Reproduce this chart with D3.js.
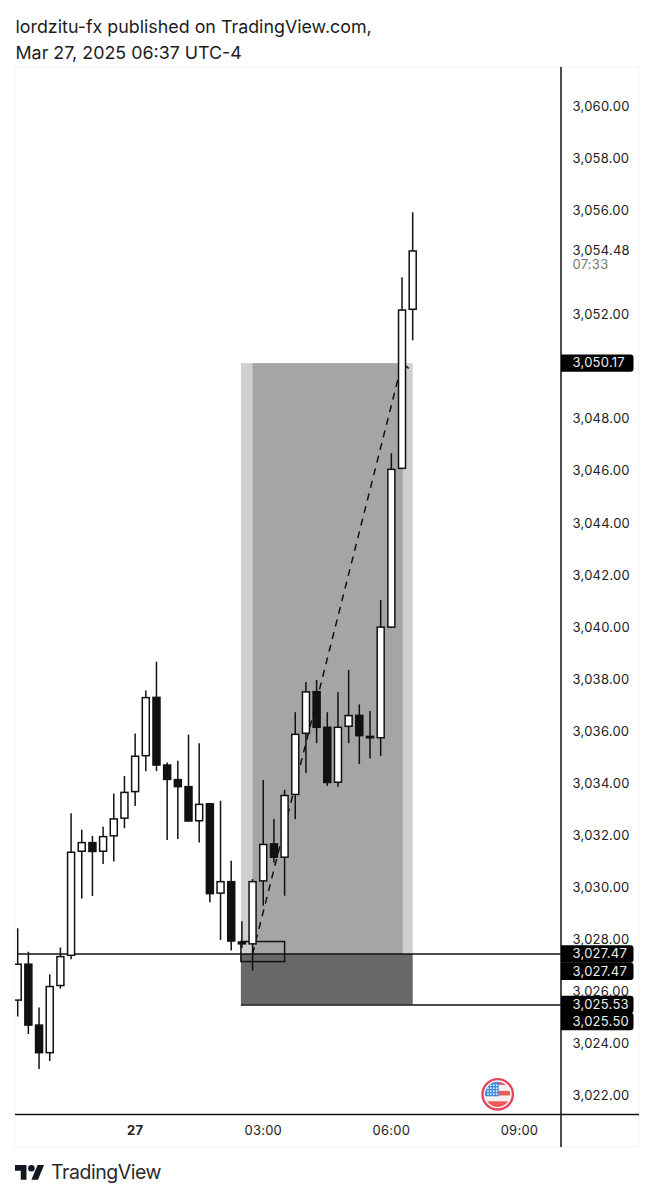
<!DOCTYPE html>
<html>
<head>
<meta charset="utf-8">
<script src="https://cdn.jsdelivr.net/npm/d3@7/dist/d3.min.js"></script>
<style>
html,body{margin:0;padding:0;background:#fff}
svg{display:block}
text{font-family:Inter,"Noto Sans",sans-serif}
</style>
</head>
<body>
<script>
// 15-minute bars, Mar 26 21:15 through Mar 27 06:30 local time (UTC-4)
const barTimes = ["2025-03-27T01:15Z","2025-03-27T01:30Z","2025-03-27T01:45Z","2025-03-27T02:00Z","2025-03-27T02:15Z","2025-03-27T02:30Z","2025-03-27T02:45Z","2025-03-27T03:00Z","2025-03-27T03:15Z","2025-03-27T03:30Z","2025-03-27T03:45Z","2025-03-27T04:00Z","2025-03-27T04:15Z","2025-03-27T04:30Z","2025-03-27T04:45Z","2025-03-27T05:00Z","2025-03-27T05:15Z","2025-03-27T05:30Z","2025-03-27T05:45Z","2025-03-27T06:00Z","2025-03-27T06:15Z","2025-03-27T06:30Z","2025-03-27T06:45Z","2025-03-27T07:00Z","2025-03-27T07:15Z","2025-03-27T07:30Z","2025-03-27T07:45Z","2025-03-27T08:00Z","2025-03-27T08:15Z","2025-03-27T08:30Z","2025-03-27T08:45Z","2025-03-27T09:00Z","2025-03-27T09:15Z","2025-03-27T09:30Z","2025-03-27T09:45Z","2025-03-27T10:00Z","2025-03-27T10:15Z","2025-03-27T10:30Z"];
const opens  = [3025.70,3027.08,3024.74,3023.68,3026.26,3027.42,3031.42,3031.75,3031.42,3032.01,3032.69,3033.71,3035.09,3037.33,3034.73,3034.17,3033.90,3032.59,3033.24,3029.81,3030.25,3027.93,3027.86,3030.28,3031.70,3031.19,3033.60,3035.95,3037.55,3036.18,3034.07,3036.22,3036.64,3035.83,3035.78,3040.03,3046.13,3052.24];
const highs  = [3028.46,3027.56,3025.42,3026.69,3027.72,3032.88,3032.24,3032.01,3032.36,3033.64,3034.31,3035.94,3037.59,3038.70,3034.83,3034.90,3035.90,3035.57,3033.26,3033.36,3031.05,3028.73,3030.35,3034.16,3032.66,3033.78,3036.76,3037.92,3038.00,3036.76,3037.53,3038.38,3037.06,3036.81,3041.07,3046.71,3053.47,3055.97];
const lows   = [3025.07,3024.40,3023.05,3023.36,3026.14,3027.27,3029.60,3029.70,3030.93,3031.02,3032.30,3033.16,3034.49,3034.50,3031.85,3031.89,3032.58,3031.75,3029.46,3028.01,3027.61,3027.70,3026.83,3029.32,3030.98,3029.71,3032.65,3034.42,3035.57,3033.93,3033.90,3035.57,3034.77,3034.98,3035.08,3040.00,3046.13,3051.05];
const closes = [3027.08,3024.74,3023.68,3026.22,3027.37,3031.38,3031.75,3031.41,3031.98,3032.66,3033.68,3035.07,3037.32,3034.73,3034.18,3033.90,3032.58,3033.22,3029.79,3030.25,3027.97,3027.86,3030.25,3031.68,3031.19,3033.56,3035.91,3037.54,3036.18,3034.06,3036.18,3036.63,3035.86,3035.78,3040.03,3046.09,3052.21,3054.48];

const priceTicks = [3060,3058,3056,3052,3048,3046,3044,3042,3040,3038,3036,3034,3032,3030,3028,3026,3024,3022];
const timeTicks = ["2025-03-27T04:00Z","2025-03-27T07:00Z","2025-03-27T10:00Z","2025-03-27T13:00Z"];
const timeTickLabels = ["27","03:00","06:00","09:00"];

// Long-position drawing: target, entry, stop
const targetPrice = 3050.17, entryPrice = 3027.47, stopPrice = 3025.53;
const toolStart = "2025-03-27T06:30Z", toolEnd = "2025-03-27T10:30Z";
const activeStart = "2025-03-27T06:45Z", activeEnd = "2025-03-27T10:15Z";
const boxStart = "2025-03-27T06:30Z", boxEnd = "2025-03-27T07:30Z", boxTop = 3027.95, boxBottom = 3027.18;
const tradePath = [["2025-03-27T06:45Z",3027.47],["2025-03-27T10:15Z",3050.17],["2025-03-27T10:30Z",3049.85]];

// Price-axis tags: stated value, and the price row each one is stacked on
const lastPrice = "3,054.48", countdown = "07:33";
const tags = [["3,050.17",3050.17],["3,027.47",3027.47],["3,027.47",3026.81],["3,025.53",3025.53],["3,025.50",3024.88]];

const width = 654, height = 1200;
const pane = {left:15, right:639, top:67, bottom:1147, axisX:561, axisY:1114.5};
const ink = "#111";
const labelStyle = s => s.style("font-size","13px").style("font-family","Inter,sans-serif").style("letter-spacing","0.25px");

const x = d3.scaleUtc().domain([new Date(barTimes[0]), new Date(barTimes[barTimes.length-1])]).range([17.7, 412.7]);
const y = d3.scaleLinear().domain([3060,3022]).range([107.3,1096.4]);
const t = s => x(new Date(s));

const svg = d3.select("body").append("svg").attr("width",width).attr("height",height);
svg.append("rect").attr("width",width).attr("height",height).attr("fill","#fff");

// Header lines
const header = svg.append("g").attr("fill","#1c1c1c").style("font-size","17.85px");
header.append("text").attr("x",15.5).attr("y",33).text("lordzitu-fx published on TradingView.com,");
header.append("text").attr("x",15.5).attr("y",59).text("Mar 27, 2025 06:37 UTC-4");

// Faint outer frame
svg.append("rect").attr("x",pane.left).attr("y",pane.top)
  .attr("width",pane.right-pane.left).attr("height",pane.bottom-pane.top)
  .attr("fill","none").attr("stroke","#f4f4f4");

svg.append("clipPath").attr("id","plot").append("rect")
  .attr("x",pane.left).attr("y",pane.top)
  .attr("width",pane.axisX-pane.left).attr("height",pane.axisY-pane.top);

const plot = svg.append("g").attr("clip-path","url(#plot)");

// Position zones
plot.append("rect").attr("x",t(toolStart)-1).attr("width",t(toolEnd)-t(toolStart)+1)
  .attr("y",y(targetPrice)).attr("height",y(entryPrice)-y(targetPrice)).attr("fill","#cfcfcf");
plot.append("rect").attr("x",t(activeStart)).attr("width",t(activeEnd)-t(activeStart)+0.7)
  .attr("y",y(targetPrice)).attr("height",y(entryPrice)-y(targetPrice)).attr("fill","#a5a5a5");
plot.append("rect").attr("x",t(toolStart)-1).attr("width",t(toolEnd)-t(toolStart)+1)
  .attr("y",y(entryPrice)).attr("height",y(stopPrice)-y(entryPrice)).attr("fill","#686868");

// Entry and stop levels
plot.append("line").attr("x1",17).attr("x2",pane.axisX).attr("y1",y(entryPrice)).attr("y2",y(entryPrice))
  .attr("stroke",ink).attr("stroke-width",1.5);
plot.append("line").attr("x1",t(toolStart)-1).attr("x2",pane.axisX).attr("y1",y(stopPrice)+0.5).attr("y2",y(stopPrice)+0.5)
  .attr("stroke",ink).attr("stroke-width",1.6);

// Dashed trade path
plot.append("path")
  .attr("d",d3.line().x(d=>t(d[0])).y(d=>y(d[1]))(tradePath))
  .attr("fill","none").attr("stroke",ink).attr("stroke-width",1.5).attr("stroke-dasharray","7 6");

// Reference box around the entry bars
plot.append("rect").attr("x",t(boxStart)-1).attr("width",t(boxEnd)-t(boxStart)+1)
  .attr("y",y(boxTop)).attr("height",y(boxBottom)-y(boxTop))
  .attr("fill","none").attr("stroke",ink).attr("stroke-width",1.5);

// Candles
const bars = barTimes.map((d,i)=>({time:d,o:opens[i],h:highs[i],l:lows[i],c:closes[i]}));
const candle = plot.append("g").selectAll("g").data(bars).join("g");
candle.append("line")
  .attr("x1",d=>t(d.time)).attr("x2",d=>t(d.time))
  .attr("y1",d=>y(d.h)).attr("y2",d=>y(d.l))
  .attr("stroke",ink).attr("stroke-width",1.5);
candle.append("rect")
  .attr("x",d=>t(d.time)-3.5).attr("width",7)
  .attr("y",d=>y(Math.max(d.o,d.c)))
  .attr("height",d=>Math.max(1,Math.abs(y(d.o)-y(d.c))))
  .attr("fill",d=>d.c>=d.o?"#fff":ink)
  .attr("stroke",ink).attr("stroke-width",1.5);

// Price axis
const priceAxis = d3.axisRight(y).tickValues(priceTicks).tickSize(0).tickPadding(0)
  .tickFormat(d3.format(",.2f"));
const gy = svg.append("g").attr("transform","translate(572.5,-0.9)").call(priceAxis);
gy.select(".domain").remove();
labelStyle(gy.selectAll("text").attr("fill","#222"));

// Time axis
const timeAxis = d3.axisBottom(x).tickValues(timeTicks.map(d=>new Date(d))).tickSize(0).tickPadding(0)
  .tickFormat((d,i)=>timeTickLabels[i]);
const gx = svg.append("g").attr("transform","translate(-0.5,1126)").call(timeAxis);
gx.select(".domain").remove();
labelStyle(gx.selectAll("text").attr("fill","#222")).style("font-weight",(d,i)=>i===0?700:400);

// Axis rules
svg.append("line").attr("x1",pane.axisX).attr("x2",pane.axisX).attr("y1",pane.top).attr("y2",pane.bottom)
  .attr("stroke",ink).attr("stroke-width",1.5);
svg.append("line").attr("x1",pane.left).attr("x2",pane.right).attr("y1",pane.axisY).attr("y2",pane.axisY)
  .attr("stroke",ink).attr("stroke-width",1.5);

// Last price with countdown
labelStyle(svg.append("text").attr("x",572.5).attr("y",255.4).attr("fill","#222").text(lastPrice));
labelStyle(svg.append("text").attr("x",572.5).attr("y",269).attr("fill","#777").text(countdown));

// Black price tags
const tagG = svg.append("g").selectAll("g").data(tags).join("g")
  .attr("transform",d=>`translate(${pane.axisX},${y(d[1])})`);
tagG.append("path").attr("fill","#000")
  .attr("d","M0,-8.7H69.5a3,3 0 0 1 3,3V5.7a3,3 0 0 1 -3,3H0Z");
labelStyle(tagG.append("text").attr("x",11.5).attr("y",4.3).attr("fill","#eee").text(d=>d[0]));

// Country badge on the event marker
const badge = svg.append("g").attr("transform","translate(497.7,1094.3)");
badge.append("circle").attr("r",15.2).attr("fill","#fff").attr("stroke","#e5455f").attr("stroke-width",2.4);
badge.append("clipPath").attr("id","flag").append("circle").attr("r",12.6);
const flag = badge.append("g").attr("clip-path","url(#flag)");
flag.append("rect").attr("x",-13).attr("y",-13).attr("width",26).attr("height",26).attr("fill","#f5f0ee");
[[-13,3.6],[-3.4,4.6],[7,6]].forEach(s=>flag.append("rect").attr("x",-13).attr("y",s[0]).attr("width",26).attr("height",s[1]).attr("fill","#ee5a5a"));
flag.append("rect").attr("x",-13).attr("y",-13).attr("width",14).attr("height",15).attr("fill","#3f8fe0");
for(let r=0;r<4;r++)for(let c=0;c<4;c++){
  flag.append("rect").attr("x",-10.5+c*2.9).attr("y",-9.8+r*2.9).attr("width",1.5).attr("height",1.5).attr("fill","#fff");
}

// Wordmark
const logo = svg.append("g").attr("transform","translate(15,1161.7) scale(0.82)").attr("fill","#131722");
logo.append("path").attr("d","M14 22H7V11H0V4h14v18zM28 22h-8l7.5-18h8L28 22z");
logo.append("circle").attr("cx",20).attr("cy",8).attr("r",4);
svg.append("text").attr("x",51).attr("y",1179.3).attr("fill","#2a2a2a").style("font-size","19.5px").style("letter-spacing","-0.45px").text("TradingView");
</script>
</body>
</html>
